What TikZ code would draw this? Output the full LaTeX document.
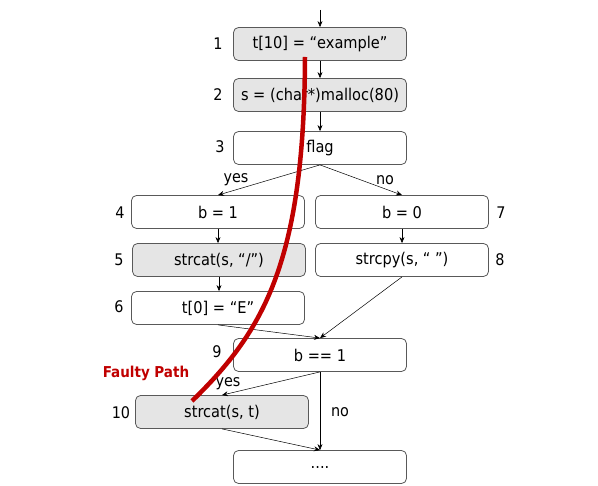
\documentclass[tikz,border=0pt]{standalone}
\usepackage{fontspec}
\setmainfont{DejaVu Sans Condensed}
\usetikzlibrary{arrows.meta}
\definecolor{faulty}{HTML}{C00000}
\begin{document}
\begin{tikzpicture}[x=1pt,y=-1pt,
 box/.style={draw=black!65, rounded corners=5pt, minimum width=173pt, minimum height=33pt, inner sep=0pt, font=\fontsize{16.2}{18}\selectfont, line width=0.8pt},
 gbox/.style={box, fill=black!10},
 wbox/.style={box, fill=white},
 num/.style={font=\fontsize{16}{18}\selectfont},
 arr/.style={-{Stealth[length=6pt,width=5pt]}, line width=0.5pt},
 lab/.style={font=\fontsize{16}{18}\selectfont}]
\useasboundingbox (0,0) rectangle (598,486);
\node[gbox] (n1) at (320,44) {t[10] = “example”};
\node[gbox] (n2) at (320,95) {s = (char*)malloc(80)};
\node[wbox] (n3) at (320,148) {flag};
\node[wbox] (n4) at (218,212) {b = 1};
\node[wbox] (n7) at (402,212) {b = 0};
\node[gbox] (n5) at (219,260) {strcat(s, “/”)};
\node[wbox] (n8) at (402,260) {strcpy(s, “ ”)};
\node[wbox] (n6) at (218,308) {t[0] = “E”};
\node[wbox] (n9) at (320,355) {b == 1};
\node[gbox] (n10) at (222,412) {strcat(s, t)};
\node[wbox] (n11) at (320,467) {....};
\node[num] (l1) at (218,44) {1};
\node[num] (l2) at (218,95) {2};
\node[num] (l3) at (220,147) {3};
\node[num] (l4) at (120,213) {4};
\node[num] (l5) at (119,260) {5};
\node[num] (l6) at (119,307) {6};
\node[num] (l7) at (501,213) {7};
\node[num] (l8) at (500,260) {8};
\node[num] (l9) at (217,352) {9};
\node[num] (l10) at (121,413) {10};
\coordinate (top) at (320,10);
\draw[arr] (top) -- (n1.north);
\draw[arr] (n1.south) -- (n2.north);
\draw[arr] (n2.south) -- (n3.north);
\draw[arr] (n3.south) -- (n4.north);
\draw[arr] (n3.south) -- (n7.north);
\draw[arr] (n4.south) -- (n5.north -| n4.south);
\draw[arr] (n5.south) -- (n6.north -| n5.south);
\draw[arr] (n7.south) -- (n8.north);
\draw[arr] (n6.south) -- (n9.north);
\draw[arr] (n8.south) -- (n9.north);
\draw[arr] (n9.south) -- (n10.north);
\draw[arr] (n9.south) -- (n11.north);
\draw[arr] (n10.south) -- (n11.north);
\node[lab] (y1) at (236,180) {yes};
\node[lab] (no1) at (385,180) {no};
\node[lab] (y2) at (228,384) {yes};
\node[lab] (no2) at (340,412) {no};
\coordinate (fs) at (305,57);
\coordinate (fe) at (192,401);
\draw[faulty, line width=4.5pt] (fs) .. controls (304,260) and (265,330) .. (fe);
\node[text=faulty, font=\bfseries\fontsize{15}{17}\selectfont] (fp) at (146,373) {Faulty Path};
\end{tikzpicture}
\end{document}
